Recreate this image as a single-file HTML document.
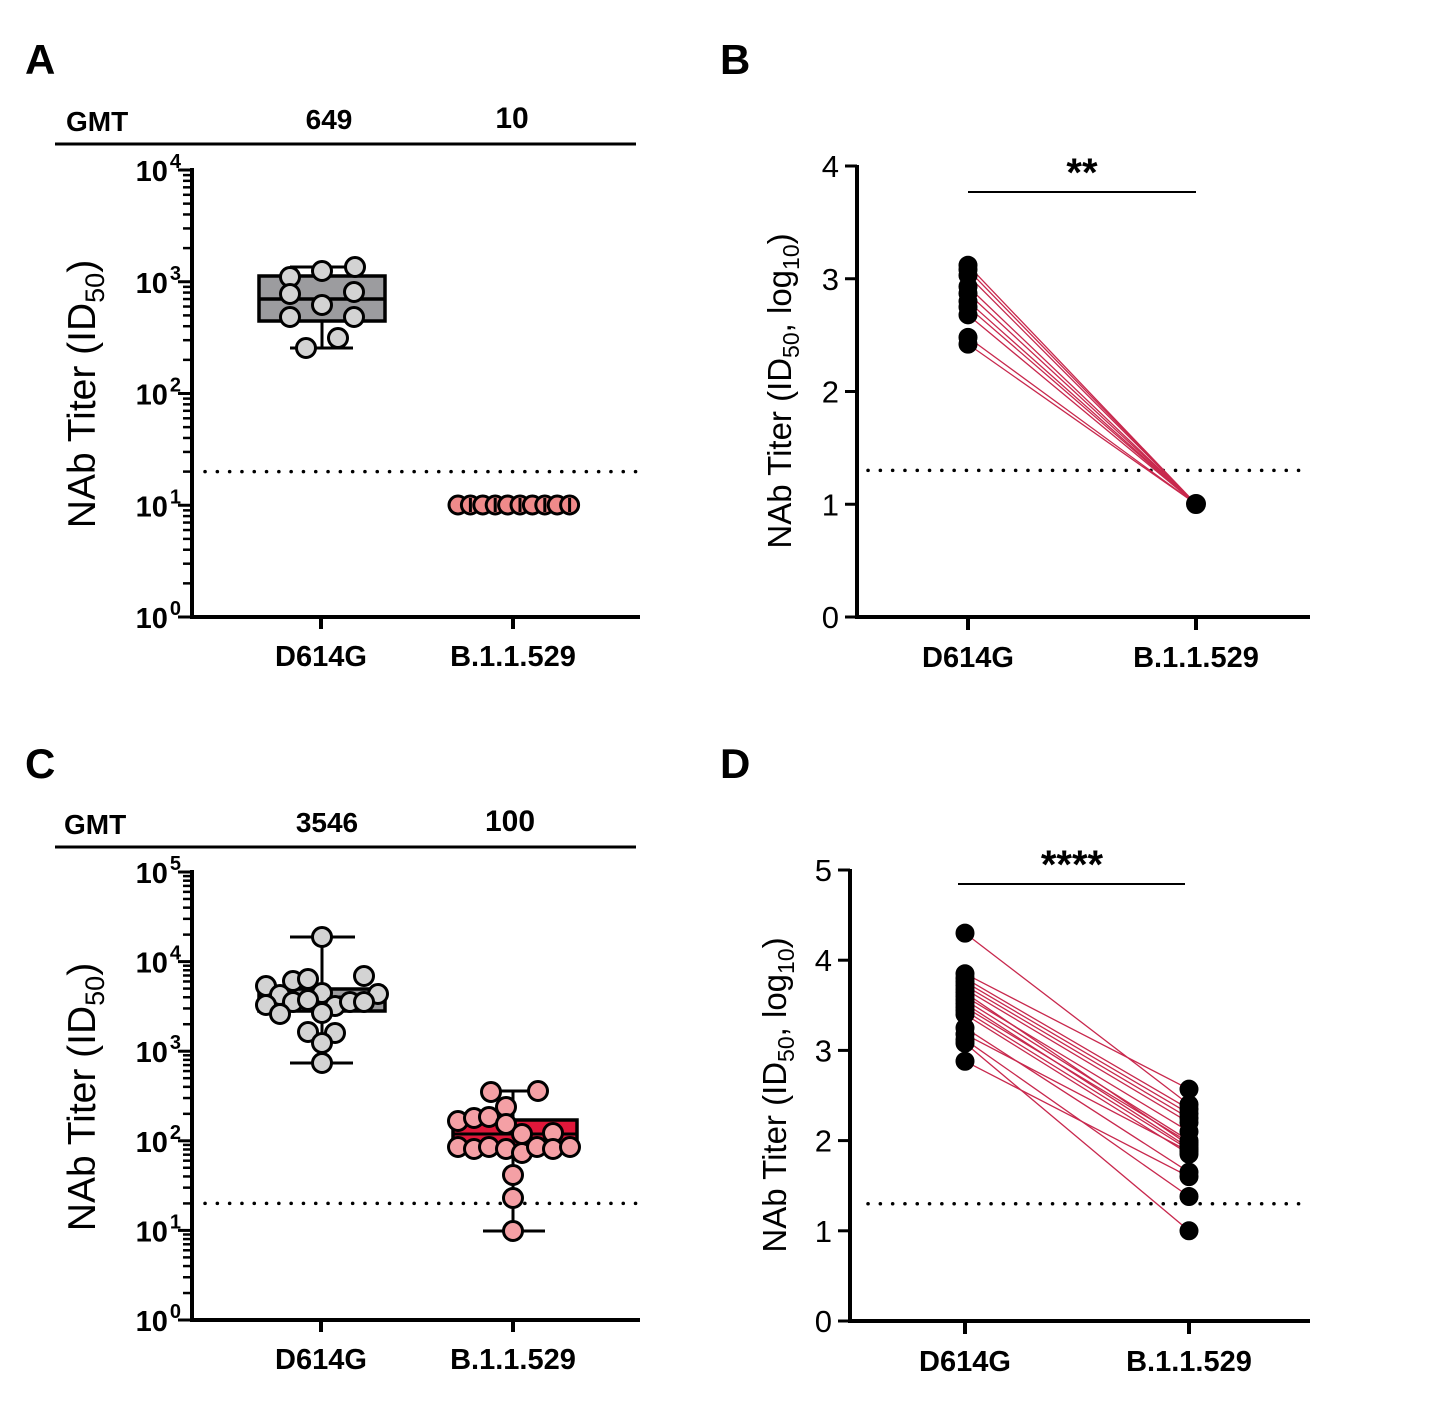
<!DOCTYPE html>
<html><head><meta charset="utf-8"><style>
html,body{margin:0;padding:0;background:#fff;}
svg{display:block;font-family:"Liberation Sans",Arial,sans-serif;}
</style></head><body>
<svg id="s" width="1432" height="1427" viewBox="0 0 1432 1427" xmlns="http://www.w3.org/2000/svg">
<rect width="1432" height="1427" fill="#fff"/>
<g font-weight="bold" font-size="42">
<text x="25" y="74">A</text><text x="720" y="74">B</text>
<text x="25" y="778">C</text><text x="720" y="778">D</text>
</g>
<g font-weight="bold" font-size="28">
<text x="66" y="131">GMT</text><text x="329" y="129" text-anchor="middle">649</text><text x="512" y="128" text-anchor="middle" font-size="30">10</text>
<text x="64" y="834">GMT</text><text x="327" y="832" text-anchor="middle">3546</text><text x="510" y="831" text-anchor="middle" font-size="30">100</text>
</g>
<line x1="55" y1="144" x2="636" y2="144" stroke="#000" stroke-width="3"/>
<line x1="55" y1="847" x2="636" y2="847" stroke="#000" stroke-width="3"/>
<g id="g"></g>
</svg>
<script>
var g=document.getElementById('g'),h='';
function L(x1,y1,x2,y2,c,w,extra){h+='<line x1="'+x1+'" y1="'+y1+'" x2="'+x2+'" y2="'+y2+'" stroke="'+(c||'#000')+'" stroke-width="'+(w||3)+'" '+(extra||'')+'/>';}
function C(x,y,r,f,s,sw){h+='<circle cx="'+x+'" cy="'+y+'" r="'+r+'" fill="'+f+'" stroke="'+(s||'#000')+'" stroke-width="'+(sw||3)+'"/>';}
function T(x,y,t,sz,anc,wt,extra){h+='<text x="'+x+'" y="'+y+'" font-size="'+sz+'" text-anchor="'+(anc||'middle')+'" font-weight="'+(wt||'normal')+'" '+(extra||'')+'>'+t+'</text>';}
function logPanel(top,bot,dec){
  var ax=192,per=(bot-top)/dec;
  L(ax,top-2,ax,bot+1.5,'#000',4);
  L(ax-2,bot,640,bot,'#000',4);
  for(var d=0;d<=dec;d++){
    var y=bot-d*per;
    L(ax-14,y,ax,y,'#000',3);
    T(181,y+11,'10<tspan dx="2" dy="-13" font-size="20">'+d+'</tspan>',29,'end','bold');
    if(d<dec)for(var k=2;k<=9;k++){var yy=y-Math.log10(k)*per;L(ax-9,yy,ax,yy,'#000',2.5);}
  }
  L(321,bot,321,bot+12,'#000',4);L(513,bot,513,bot+12,'#000',4);
  T(321,bot+49,'D614G',29,'middle','bold');T(513,bot+49,'B.1.1.529',29,'middle','bold');
  var yd=bot-Math.log10(20)*per;
  L(205,yd,640,yd,'#000',3.5,'stroke-dasharray="0.1 12.2" stroke-linecap="round"');
  return per;
}
function linPanel(ax,top,bot,max,t1,t2){
  var per=(bot-top)/max;
  L(ax,top-1,ax,bot+1.5,'#000',4);L(ax-2,bot,1310,bot,'#000',4);
  for(var i=0;i<=max;i++){var y=bot-i*per;L(ax-12,y,ax,y,'#000',3);T(ax-18,y+11,i,31,'end');}
  L(t1,bot,t1,bot+13,'#000',4);L(t2,bot,t2,bot+13,'#000',4);
  T(t1,bot+50,'D614G',29,'middle','bold');T(t2,bot+50,'B.1.1.529',29,'middle','bold');
  var yd=bot-1.3*per;L(868,yd,1305,yd,'#000',3.5,'stroke-dasharray="0.1 12.2" stroke-linecap="round"');
  return per;
}
// Panel A
logPanel(170,617,4);
L(322,267,322,348);L(290,267,355,267);L(290,348,353,348);
h+='<rect x="259" y="276" width="126" height="45" fill="#9c9c9f" stroke="#000" stroke-width="3.5"/>';
L(259,299,385,299,'#000',3.5);
[[290,277],[322,271],[355,267],[290,294],[354,292],[322,305],[290,317],[354,317],[338,338],[306,348]].forEach(function(p){C(p[0],p[1],9.5,'#d3d3d3');});
for(var i=0;i<10;i++)C(458+i*12.4,505,9,'#f08a8a');
for(var i=1;i<10;i+=2)L(458+i*12.4,498,458+i*12.4,512,'#000',3);
// Panel C
logPanel(872,1320,5);
L(322,937,322,1063);L(290,937,355,937);L(290,1063,353,1063);
h+='<rect x="259" y="989" width="126" height="22" fill="#9c9c9f" stroke="#000" stroke-width="3.5"/>';
L(259,997,385,997,'#000',3);
[[322,937],[322,1063],[266,986],[293,981],[308,979],[364,976],[280,995],[322,993],[378,994],[266,1005],[293,1002],[308,1000],[335,1006],[350,1002],[364,1002],[280,1014],[322,1013],[308,1032],[335,1033],[322,1043]].forEach(function(p){C(p[0],p[1],9.5,'#d3d3d3');});
L(513,1091,513,1231);L(483,1091,545,1091);L(483,1231,545,1231);
h+='<rect x="453" y="1120" width="124" height="26" fill="#e0173a" stroke="#000" stroke-width="3.5"/>';
L(453,1134,577,1134,'#000',3);
[[491,1092],[538,1091],[506,1107],[458,1121],[474,1118],[489,1117],[506,1124],[522,1134],[553,1133],[458,1147],[474,1149],[489,1147],[506,1149],[522,1153],[537,1147],[553,1149],[570,1147],[513,1175],[513,1198],[513,1231]].forEach(function(p){C(p[0],p[1],9.5,'#f4a0a5');});
// Panel B
var pb=linPanel(857,166,617,4,968,1196);
L(968,192,1196,192,'#000',2);T(1082,186,'**',40,'middle','bold');
var vb=[3.12,3.08,3.03,2.93,2.87,2.8,2.75,2.68,2.48,2.42];
vb.forEach(function(v){L(968,617-v*pb,1196,504,'#c8284d',1.3);});
vb.forEach(function(v){C(968,617-v*pb,9,'#000','#000',1);});
C(1196,504,9.5,'#000','#000',1);
// Panel D
var pd=linPanel(850,870,1321,5,965,1189);
L(958,884,1185,884,'#000',2);T(1072,878,'****',40,'middle','bold');
var Ld=[4.3,3.85,3.8,3.76,3.72,3.68,3.64,3.6,3.56,3.52,3.48,3.44,3.4,3.25,3.18,3.12,3.08,2.88];
var Rd=[2.4,2.57,2.35,2.3,2.25,2.2,1.95,2.1,2.0,1.92,1.98,1.9,1.85,1.65,1.88,1.38,1.0,1.6];
for(var i=0;i<Ld.length;i++)L(965,1321-Ld[i]*pd,1189,1321-Rd[i]*pd,'#c8284d',1.3);
Ld.forEach(function(v){C(965,1321-v*pd,9,'#000','#000',1);});
Rd.forEach(function(v){C(1189,1321-v*pd,9,'#000','#000',1);});
// y titles
T(0,0,'NAb Titer (ID<tspan font-size="27" dy="9">50</tspan><tspan dy="-9">)</tspan>',39,'middle','normal','transform="translate(95,394) rotate(-90)"');
T(0,0,'NAb Titer (ID<tspan font-size="27" dy="9">50</tspan><tspan dy="-9">)</tspan>',39,'middle','normal','transform="translate(95,1097) rotate(-90)"');
T(0,0,'NAb Titer (ID<tspan font-size="23" dy="8">50</tspan><tspan dy="-8">, log</tspan><tspan font-size="23" dy="8">10</tspan><tspan dy="-8">)</tspan>',33,'middle','normal','transform="translate(791,391) rotate(-90)"');
T(0,0,'NAb Titer (ID<tspan font-size="23" dy="8">50</tspan><tspan dy="-8">, log</tspan><tspan font-size="23" dy="8">10</tspan><tspan dy="-8">)</tspan>',33,'middle','normal','transform="translate(786,1095) rotate(-90)"');
g.innerHTML=h;
</script>
</body></html>
